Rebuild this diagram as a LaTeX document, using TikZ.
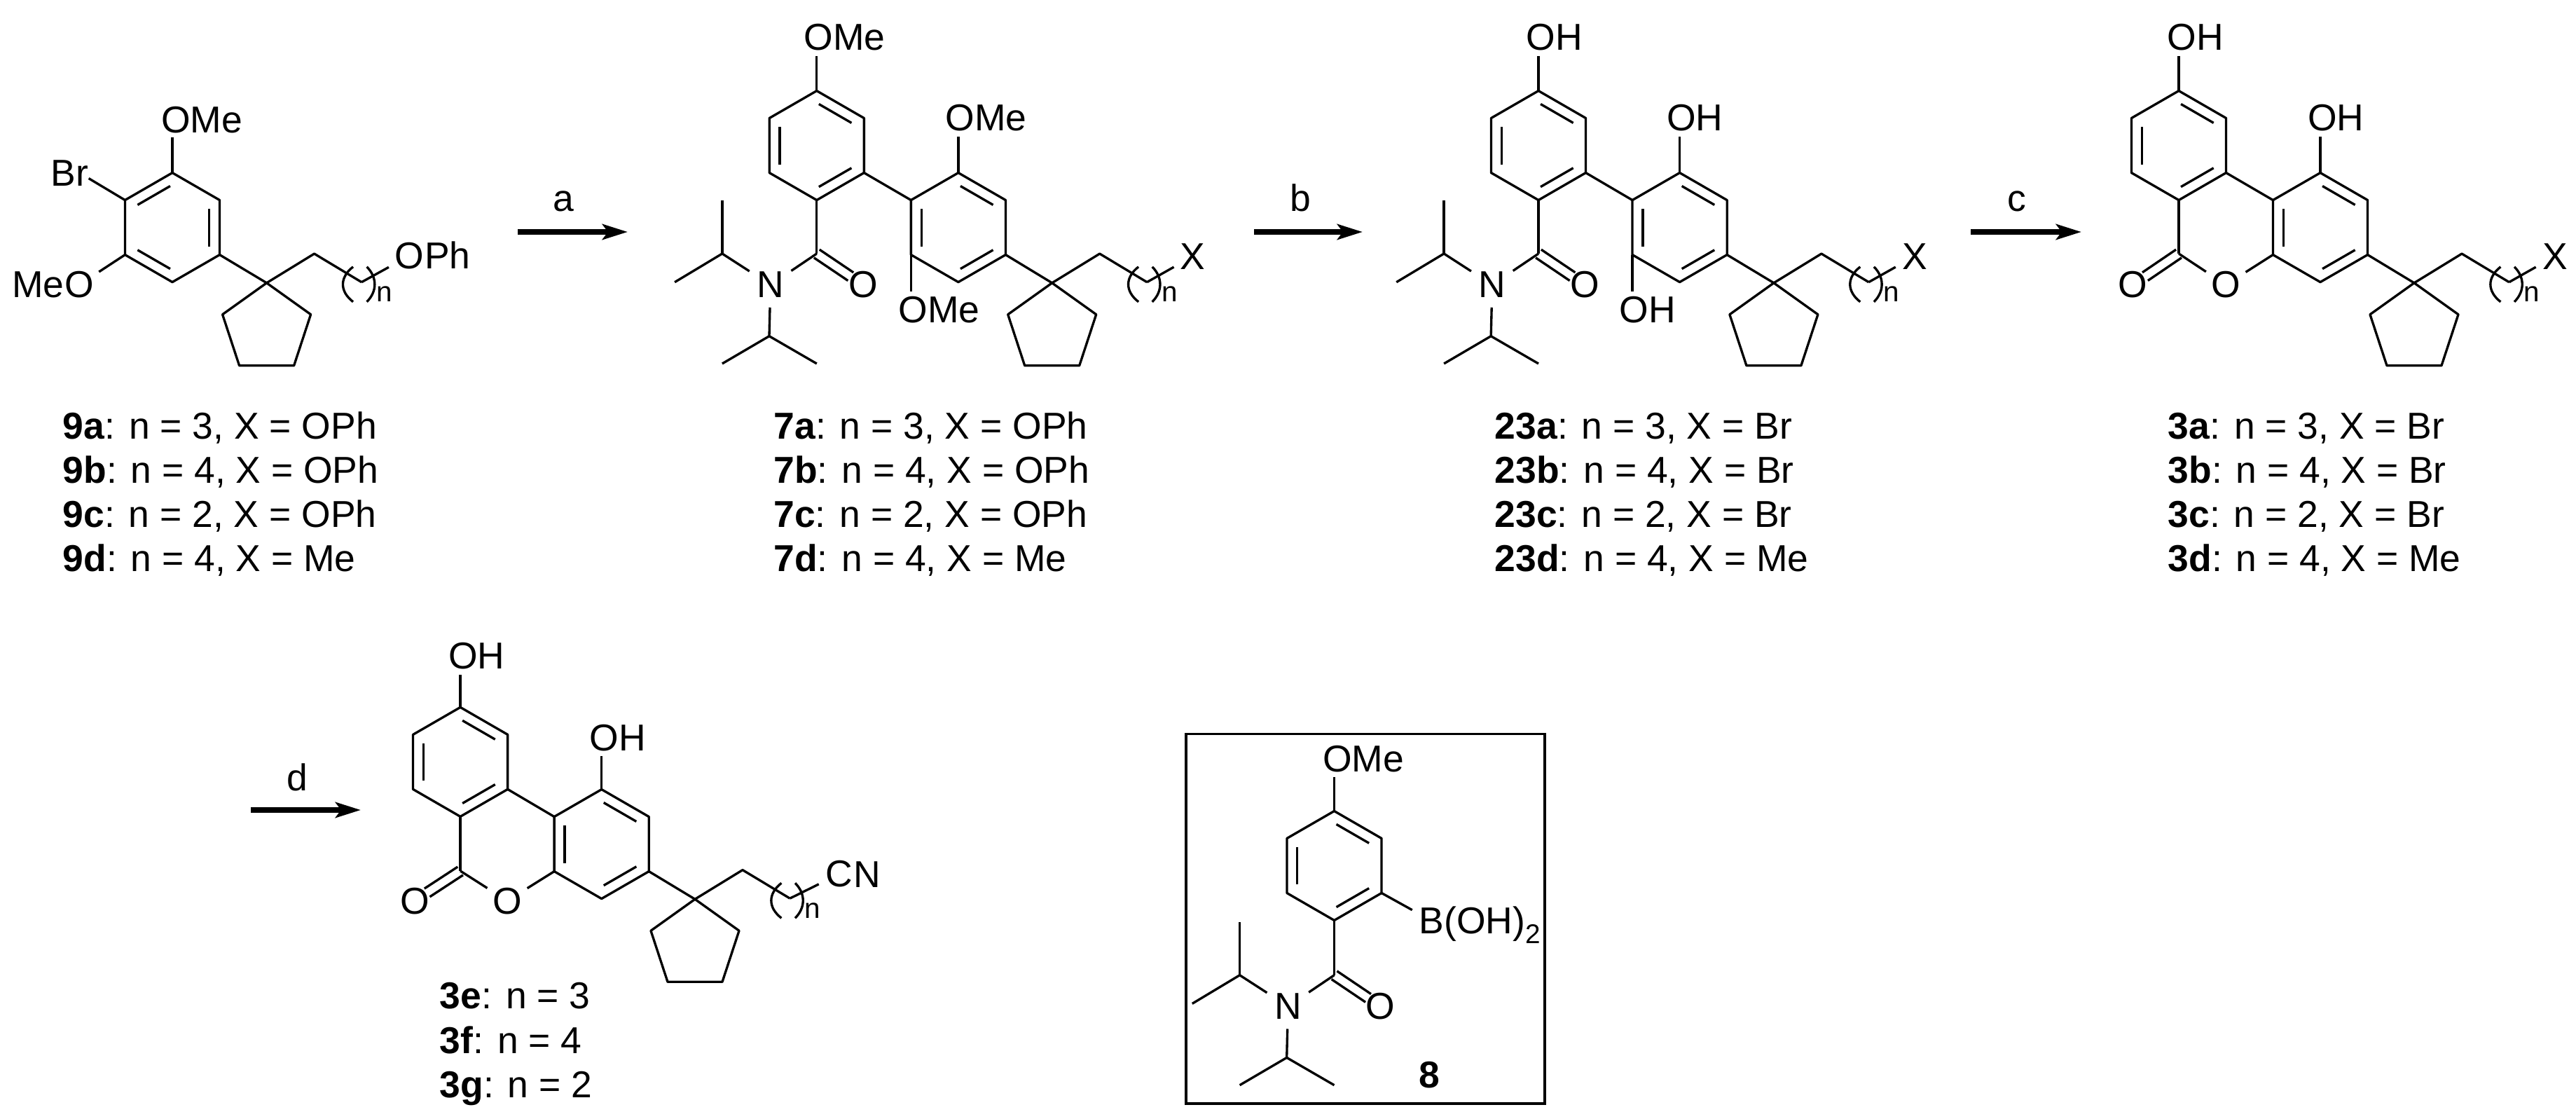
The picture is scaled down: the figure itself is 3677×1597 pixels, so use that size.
\documentclass[tikz,border=0pt]{standalone}
\usepackage{fontspec}
\setmainfont{Liberation Sans}
\usetikzlibrary{calc,arrows.meta}

% hexagon: name, centre x, centre y, pairs of vertices with an inner line
\newcommand{\benzene}[4]{
    \coordinate (#1) at (#2,#3);
    \foreach \k/\a in {1/-90,2/-30,3/30,4/90,5/150,6/210} {
            \coordinate (#1\k) at ($(#1)+(\a:78)$);
        }
    \draw[bond] (#11) -- (#12) -- (#13) -- (#14) -- (#15) -- (#16) -- cycle;
    \foreach \i/\j in {#4} {
            \draw[bond, shorten >=1pt, shorten <=1pt] ($(#1)!.78!(#1\i)$) -- ($(#1)!.78!(#1\j)$);
        }
}
% carbonyl: two lines either side of the axis
\newcommand{\carbonyl}[2]{
    \draw[bond, shorten >=6pt] ($(#1)!2pt!90:(#2.center)$) -- ($(#2.center)!2pt!-90:(#1)$);
    \draw[bond, shorten >=6pt] ($(#1)!2pt!-90:(#2.center)$) -- ($(#2.center)!2pt!90:(#1)$);
}

\tikzset{
    bond/.style={line width=0.95pt, line join=round},
    txt/.style={inner sep=0pt, font=\fontsize{15.2}{18}\selectfont},
    atom/.style={circle, inner sep=1pt, font=\fontsize{15.2}{18}\selectfont},
    rxn/.style={line width=2pt, -{Stealth[length=0.36cm, width=0.22cm, inset=0.08cm]}},
    pics/cpchain/.style={code={
                \coordinate (-c) at (0,0);
                \coordinate (-c1) at (68,-41.7);
                \coordinate (-c2) at (135.5,-1.1);
                % cyclopentane
                \draw[bond] (-c) -- (63,45) -- (39,118) -- (-39,118) -- (-63,45) -- cycle;
                % chain and its brackets
                \draw[bond] (-c) -- (-c1) -- (-c2);
                \draw[bond] (123.4,-23) .. controls (104,-8) and (104,12) .. (123.4,27);
                \draw[bond] (143,-23) .. controls (158,-8) and (158,12) .. (143,27);
                \node[inner sep=0pt, anchor=base, font=\fontsize{11.5}{12}\selectfont] (-n) at (168,27) {n};
            }},
    pics/amide/.style={code={
                \coordinate (-c) at (0,0);
                \node[atom] (-N) at (-66,44.5) {N};
                \node[atom] (-O) at (66,44.5) {O};
                \coordinate (-p1) at (-134.9,0);
                \coordinate (-p2) at (-67.8,117.7);
                \carbonyl{-c}{-O}
                \draw[bond, shorten >=1pt] (-c) -- (-N);
                \draw[bond, shorten <=1pt] (-N) -- (-p1);
                \draw[bond] (-p1) -- (-134.9,-76);
                \draw[bond] (-p1) -- (-202.7,40.7);
                \draw[bond] (-N) -- (-p2);
                \draw[bond] (-p2) -- (-134.9,157);
                \draw[bond] (-p2) -- (0,157);
            }}
}

\begin{document}
\begin{tikzpicture}[x=0.01cm, y=-0.01cm]
    \useasboundingbox (0,0) rectangle (3677,1597);

    % Aryl bromide
    \benzene{r9}{246}{324.6}{6/1,2/3,4/5}
    \pic (q9) at (380.6,403.8) {cpchain};
    \draw[bond] (r93) -- (q9-c);
    \node[txt, anchor=base west] (ome9) at (229.6,190) {OMe};
    \draw[bond, shorten >=1.5pt] (r91) -- (r91 |- ome9.south);
    \node[txt, anchor=base west] (br9) at (71.8,265.6) {Br};
    \draw[bond] (r96) -- (br9.-15);
    \node[atom] (o9) at (113,406.5) {O};
    \node[txt, anchor=base east] (me9) at (92,425) {Me};
    \draw[bond] (r95) -- (o9);
    \node[atom] (x9) at (584.5,365) {O};
    \node[txt, anchor=base west] (ph9) at (605.3,383.7) {Ph};
    \draw[bond] (q9-c2) -- (x9);

    % Biaryl amide, OMe
    \benzene{r7a}{1165.8}{207.6}{1/2,3/4,5/6}
    \benzene{r7b}{1367.9}{324.6}{1/2,3/4,5/6}
    \draw[bond] (r7a3) -- (r7b6);
    \pic (am7) at (1165.8,362) {amide};
    \draw[bond] (r7a4) -- (am7-c);
    \pic (q7) at (1501.7,403.8) {cpchain};
    \draw[bond] (r7b3) -- (q7-c);
    \node[txt, anchor=base west] (ome7a) at (1146.8,72) {OMe};
    \draw[bond, shorten >=2pt] (r7a1) -- (r7a1 |- ome7a.south);
    \node[txt, anchor=base west] (ome7b) at (1348.9,187) {OMe};
    \draw[bond, shorten >=2pt] (r7b1) -- (r7b1 |- ome7b.south);
    \node[txt, anchor=base west] (ome7c) at (1281.7,460.7) {OMe};
    \draw[bond, shorten >=2pt] (r7b5) -- (r7b5 |- ome7c.north);
    \node[atom] (x7) at (1702.7,365.8) {X};
    \draw[bond] (q7-c2) -- (x7);

    % Biaryl amide, OH
    \benzene{r23a}{2196}{207.6}{1/2,3/4,5/6}
    \benzene{r23b}{2397.6}{324.6}{1/2,3/4,5/6}
    \draw[bond] (r23a3) -- (r23b6);
    \pic (am23) at (2196,362) {amide};
    \draw[bond] (r23a4) -- (am23-c);
    \pic (q23) at (2531.9,403.8) {cpchain};
    \draw[bond] (r23b3) -- (q23-c);
    \node[txt, anchor=base west] (oh23a) at (2177.7,72) {OH};
    \draw[bond, shorten >=2pt] (r23a1) -- (r23a1 |- oh23a.south);
    \node[txt, anchor=base west] (oh23b) at (2378.6,187) {OH};
    \draw[bond, shorten >=2pt] (r23b1) -- (r23b1 |- oh23b.south);
    \node[txt, anchor=base west] (oh23c) at (2310.9,460.7) {OH};
    \draw[bond, shorten >=2pt] (r23b5) -- (r23b5 |- oh23c.north);
    \node[atom] (x23) at (2732.9,365.8) {X};
    \draw[bond] (q23-c2) -- (x23);

    % Lactone
    \benzene{r3a}{3110}{207.6}{1/2,3/4,5/6}
    \benzene{r3b}{3312}{324.6}{1/2,3/4,5/6}
    \draw[bond] (r3a3) -- (r3b6);
    \coordinate (cc3) at (3110,362);
    \node[atom] (ox3) at (3177,406.5) {O};
    \node[atom] (co3) at (3044.5,406.5) {O};
    \draw[bond] (r3a4) -- (cc3);
    \draw[bond] (cc3) -- (ox3);
    \draw[bond] (r3b5) -- (ox3);
    \carbonyl{cc3}{co3}
    \pic (q3) at (3446,403.8) {cpchain};
    \draw[bond] (r3b3) -- (q3-c);
    \node[txt, anchor=base west] (oh3a) at (3092.7,72) {OH};
    \draw[bond, shorten >=2pt] (r3a1) -- (r3a1 |- oh3a.south);
    \node[txt, anchor=base west] (oh3b) at (3293.6,187) {OH};
    \draw[bond, shorten >=2pt] (r3b1) -- (r3b1 |- oh3b.south);
    \node[atom] (x3) at (3646.8,365.8) {X};
    \draw[bond] (q3-c2) -- (x3);

    % Nitrile lactone
    \benzene{rea}{657.1}{1087.4}{1/2,3/4,5/6}
    \benzene{reb}{858.7}{1204.6}{1/2,3/4,5/6}
    \draw[bond] (rea3) -- (reb6);
    \coordinate (cce) at (657.1,1243);
    \node[atom] (oxe) at (724,1285.6) {O};
    \node[atom] (coe) at (592,1285.6) {O};
    \draw[bond] (rea4) -- (cce);
    \draw[bond] (cce) -- (oxe);
    \draw[bond] (reb5) -- (oxe);
    \carbonyl{cce}{coe}
    \pic (qe) at (992,1283.3) {cpchain};
    \draw[bond] (reb3) -- (qe-c);
    \node[txt, anchor=base west] (ohea) at (639.3,954.5) {OH};
    \draw[bond, shorten >=2pt] (rea1) -- (rea1 |- ohea.south);
    \node[txt, anchor=base west] (oheb) at (840.8,1071) {OH};
    \draw[bond, shorten >=2pt] (reb1) -- (reb1 |- oheb.south);
    \node[atom] (cn) at (1198,1247.4) {C};
    \node[txt, anchor=base west] (cnn) at (1217.3,1266.4) {N};
    \draw[bond] (qe-c2) -- (cn);

    % Boronic acid in its frame
    \draw[line width=1pt] (1692.9,1047.6) rectangle (2204.9,1575);
    \benzene{r8}{1904.5}{1235.5}{1/2,3/4,5/6}
    \pic (am8) at (1904.5,1391.7) {amide};
    \draw[bond] (r84) -- (am8-c);
    \node[txt, anchor=base west] (ome8) at (1887.3,1101) {OMe};
    \draw[bond, shorten >=2pt] (r81) -- (r81 |- ome8.south);
    \node[atom] (b8) at (2043,1313.8) {B};
    \node[txt, anchor=base west] (oh8) at (2060.6,1332.8) {(OH)\raisebox{-0.14cm}{\fontsize{11}{12}\selectfont 2}};
    \draw[bond] (r83) -- (b8);
    \node[txt, anchor=base, font=\fontsize{15.2}{18}\selectfont\bfseries] (lab8) at (2040.4,1552.6) {8};

    % Reaction arrows
    \foreach \nm/\xs/\xe/\xl/\ys/\yl in {a/739/896/804/331/302,b/1790/1945/1856/331/302,c/2813/2971/2879/331/302,d/358/515/424/1156/1128} {
            \coordinate (rxn\nm0) at (\xs,\ys);
            \coordinate (rxn\nm1) at (\xe,\ys);
            \draw[rxn] (rxn\nm0) -- (rxn\nm1);
            \node[txt, anchor=base] (lab\nm) at (\xl,\yl) {\nm};
        }

    % Compound tables
    \foreach \cpd/\xl/\grp in {9/89/OPh,7/1103.8/OPh,23/2133/Br,3/3093.9/Br} {
            \foreach \nm/\y/\nv/\xv in {a/626/3/\grp,b/689/4/\grp,c/752/2/\grp,d/815/4/Me} {
                    \node[txt, anchor=base west] (lab\cpd\nm) at (\xl,\y) {\textbf{\cpd\nm}: n = \nv, X = \xv};
                }
        }
    \foreach \nm/\y/\nv in {e/1439/3,f/1503/4,g/1566/2} {
            \node[txt, anchor=base west] (lab3\nm) at (627.2,\y) {\textbf{3\nm}: n = \nv};
        }
\end{tikzpicture}
\end{document}
